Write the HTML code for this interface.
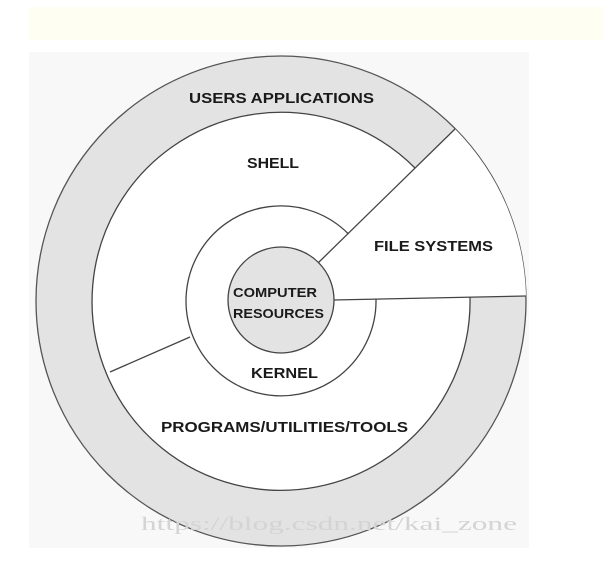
<!DOCTYPE html>
<html><head><style>
html,body{margin:0;padding:0;background:#fff;}
svg{display:block;}
text{font-family:"Liberation Sans",Arial,sans-serif;font-weight:bold;fill:#1a1a1a;}
</style></head><body>
<svg width="604" height="561" viewBox="0 0 604 561" xmlns="http://www.w3.org/2000/svg">
<rect x="0" y="0" width="604" height="561" fill="#fff"/>
<rect x="29" y="7" width="575" height="33" fill="#fffef3"/>
<rect x="29" y="52" width="500" height="496" fill="#f8f8f8"/>
<circle cx="281" cy="301" r="245" fill="#e3e3e3" stroke="#555" stroke-width="1.3"/>
<path d="M281 301 L455 129 A245 245 0 0 1 526 296 Z" fill="#fff"/>
<circle cx="281" cy="301" r="189" fill="#fff"/>
<path d="M470 297 A189 189 0 1 1 415 168" fill="none" stroke="#444" stroke-width="1.3"/>
<path d="M376 299 A95 95 0 1 1 348.5 234" fill="none" stroke="#444" stroke-width="1.3"/>
<line x1="318" y1="263" x2="455" y2="129" stroke="#444" stroke-width="1.3"/>
<line x1="333" y1="300" x2="526" y2="296" stroke="#444" stroke-width="1.3"/>
<line x1="190" y1="337" x2="110" y2="372" stroke="#444" stroke-width="1.3"/>
<circle cx="281" cy="300" r="53" fill="#e3e3e3" stroke="#444" stroke-width="1.3"/>
<text x="189" y="103" font-size="15" textLength="185" lengthAdjust="spacingAndGlyphs">USERS APPLICATIONS</text>
<text x="247" y="168" font-size="15" textLength="52" lengthAdjust="spacingAndGlyphs">SHELL</text>
<text x="374" y="251" font-size="15" textLength="119" lengthAdjust="spacingAndGlyphs">FILE SYSTEMS</text>
<text x="233" y="297" font-size="13" textLength="84" lengthAdjust="spacingAndGlyphs">COMPUTER</text>
<text x="233" y="318" font-size="13" textLength="91" lengthAdjust="spacingAndGlyphs">RESOURCES</text>
<text x="251" y="378" font-size="15" textLength="67" lengthAdjust="spacingAndGlyphs">KERNEL</text>
<text x="161" y="432" font-size="15" textLength="247" lengthAdjust="spacingAndGlyphs">PROGRAMS/UTILITIES/TOOLS</text>
<text x="141" y="530" font-size="19" textLength="376" lengthAdjust="spacingAndGlyphs" style="font-family:'Liberation Serif',serif;font-weight:normal;fill:#d4d4d4">https://blog.csdn.net/kai_zone</text>
</svg>
</body></html>
